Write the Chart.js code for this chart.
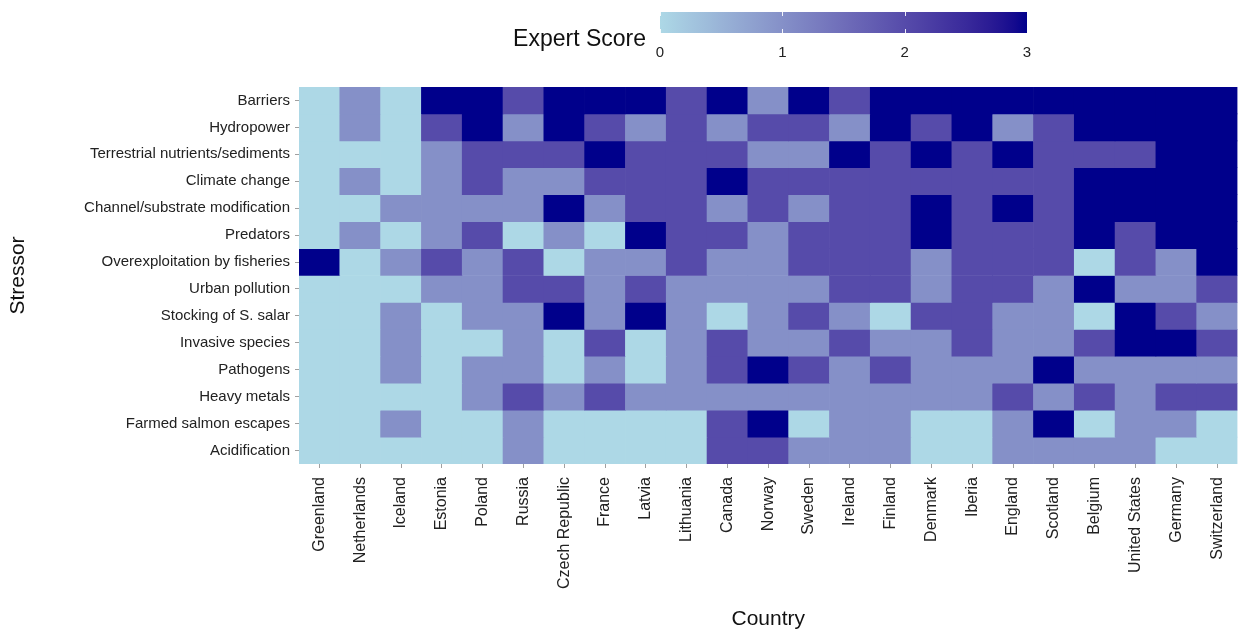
<!DOCTYPE html>
<html>
<head>
<meta charset="utf-8">
<title>Expert scores of stressors by country</title>
<script src="https://cdn.jsdelivr.net/npm/chart.js@4.4.1/dist/chart.umd.min.js"></script>
<style>
  html, body { margin: 0; padding: 0; background: #ffffff; }
  #wrap { position: relative; width: 1241px; height: 635px; }
</style>
</head>
<body>
<div id="wrap"><canvas id="chart" width="1241" height="635"></canvas></div>
<script>
// Countries along the x axis, left to right
const countries = [
  'Greenland', 'Netherlands', 'Iceland', 'Estonia', 'Poland', 'Russia',
  'Czech Republic', 'France', 'Latvia', 'Lithuania', 'Canada', 'Norway',
  'Sweden', 'Ireland', 'Finland', 'Denmark', 'Iberia', 'England',
  'Scotland', 'Belgium', 'United States', 'Germany', 'Switzerland'
];

// Stressors down the y axis, top to bottom
const stressors = [
  'Barriers', 'Hydropower', 'Terrestrial nutrients/sediments', 'Climate change',
  'Channel/substrate modification', 'Predators', 'Overexploitation by fisheries',
  'Urban pollution', 'Stocking of S. salar', 'Invasive species', 'Pathogens',
  'Heavy metals', 'Farmed salmon escapes', 'Acidification'
];

// Expert scores (0-3) for each stressor, one value per country in the order above
const barriers       = [0,1,0,3,3,2,3,3,3,2,3,1,3,2,3,3,3,3,3,3,3,3,3];
const hydropower     = [0,1,0,2,3,1,3,2,1,2,1,2,2,1,3,2,3,1,2,3,3,3,3];
const terrestrial    = [0,0,0,1,2,2,2,3,2,2,2,1,1,3,2,3,2,3,2,2,2,3,3];
const climateChange  = [0,1,0,1,2,1,1,2,2,2,3,2,2,2,2,2,2,2,2,3,3,3,3];
const channel        = [0,0,1,1,1,1,3,1,2,2,1,2,1,2,2,3,2,3,2,3,3,3,3];
const predators      = [0,1,0,1,2,0,1,0,3,2,2,1,2,2,2,3,2,2,2,3,2,3,3];
const overexploit    = [3,0,1,2,1,2,0,1,1,2,1,1,2,2,2,1,2,2,2,0,2,1,3];
const urbanPollution = [0,0,0,1,1,2,2,1,2,1,1,1,1,2,2,1,2,2,1,3,1,1,2];
const stocking       = [0,0,1,0,1,1,3,1,3,1,0,1,2,1,0,2,2,1,1,0,3,2,1];
const invasive       = [0,0,1,0,0,1,0,2,0,1,2,1,1,2,1,1,2,1,1,2,3,3,2];
const pathogens      = [0,0,1,0,1,1,0,1,0,1,2,3,2,1,2,1,1,1,3,1,1,1,1];
const heavyMetals    = [0,0,0,0,1,2,1,2,1,1,1,1,1,1,1,1,1,2,1,2,1,2,2];
const farmedEscapes  = [0,0,1,0,0,1,0,0,0,0,2,3,0,1,1,0,0,1,3,0,1,1,0];
const acidification  = [0,0,0,0,0,1,0,0,0,0,2,2,1,1,1,0,0,1,1,1,1,0,0];

const scoreRows = [
  barriers, hydropower, terrestrial, climateChange, channel, predators,
  overexploit, urbanPollution, stocking, invasive, pathogens, heavyMetals,
  farmedEscapes, acidification
];

// Colour bar ticks
const legendTicks = [0, 1, 2, 3];
const scoreMin = 0, scoreMax = 3;

// ---- colour scale: lightblue -> darkblue, interpolated in CIE Lab ----
const WHITE = [0.95047, 1.0, 1.08883];
function toLinear(c) { c /= 255; return c <= 0.04045 ? c / 12.92 : Math.pow((c + 0.055) / 1.055, 2.4); }
function fromLinear(c) {
  const v = c <= 0.0031308 ? 12.92 * c : 1.055 * Math.pow(c, 1 / 2.4) - 0.055;
  return Math.round(Math.max(0, Math.min(1, v)) * 255);
}
function hexToLab(hex) {
  const n = parseInt(hex.slice(1), 16);
  const r = toLinear((n >> 16) & 255), g = toLinear((n >> 8) & 255), b = toLinear(n & 255);
  const X = (0.4124564 * r + 0.3575761 * g + 0.1804375 * b) / WHITE[0];
  const Y = (0.2126729 * r + 0.7151522 * g + 0.0721750 * b) / WHITE[1];
  const Z = (0.0193339 * r + 0.1191920 * g + 0.9503041 * b) / WHITE[2];
  const f = t => t > 0.008856 ? Math.cbrt(t) : 7.787 * t + 16 / 116;
  const fx = f(X), fy = f(Y), fz = f(Z);
  return [116 * fy - 16, 500 * (fx - fy), 200 * (fy - fz)];
}
function labToRgb(L, a, b) {
  const fy = (L + 16) / 116, fx = fy + a / 500, fz = fy - b / 200;
  const inv = t => { const t3 = t * t * t; return t3 > 0.008856 ? t3 : (t - 16 / 116) / 7.787; };
  const X = inv(fx) * WHITE[0], Y = inv(fy) * WHITE[1], Z = inv(fz) * WHITE[2];
  const r = 3.2404542 * X - 1.5371385 * Y - 0.4985314 * Z;
  const g = -0.9692660 * X + 1.8760108 * Y + 0.0415560 * Z;
  const bl = 0.0556434 * X - 0.2040259 * Y + 1.0572252 * Z;
  return 'rgb(' + fromLinear(r) + ',' + fromLinear(g) + ',' + fromLinear(bl) + ')';
}
const lowLab = hexToLab('#ADD8E6');
const highLab = hexToLab('#00008B');
function scoreColour(v) {
  const t = (v - scoreMin) / (scoreMax - scoreMin);
  return labToRgb(
    lowLab[0] + (highLab[0] - lowLab[0]) * t,
    lowLab[1] + (highLab[1] - lowLab[1]) * t,
    lowLab[2] + (highLab[2] - lowLab[2]) * t
  );
}

const FONT = '"Liberation Sans", Arial, Helvetica, sans-serif';
const TEXT = '#222222';
const TICKMARK = '#a0a0a0';

// ---- continuous colour bar with its title, drawn above the tiles ----
const colourBar = {
  id: 'colourBar',
  afterDraw(chart) {
    const ctx = chart.ctx;
    const x0 = 660, x1 = 1027, y0 = 12, y1 = 33;
    ctx.save();
    const grad = ctx.createLinearGradient(x0, 0, x1, 0);
    for (let i = 0; i <= 30; i++) {
      const t = i / 30;
      grad.addColorStop(t, scoreColour(scoreMin + t * (scoreMax - scoreMin)));
    }
    ctx.fillStyle = grad;
    ctx.fillRect(x0, y0, x1 - x0, y1 - y0);

    const xOf = v => x0 + (v - scoreMin) / (scoreMax - scoreMin) * (x1 - x0);
    ctx.strokeStyle = 'rgba(255,255,255,0.9)';
    ctx.lineWidth = 1;
    legendTicks.forEach(v => {
      const x = Math.round(xOf(v)) + 0.5;
      ctx.beginPath();
      ctx.moveTo(x, y0); ctx.lineTo(x, y0 + 4);
      ctx.moveTo(x, y1 - 4); ctx.lineTo(x, y1);
      ctx.stroke();
    });

    ctx.fillStyle = TEXT;
    ctx.font = '15px ' + FONT;
    ctx.textAlign = 'center';
    ctx.textBaseline = 'middle';
    legendTicks.forEach(v => ctx.fillText(String(v), xOf(v), 53));

    ctx.fillStyle = '#111';
    ctx.font = '23px ' + FONT;
    ctx.textAlign = 'right';
    ctx.fillText('Expert Score', 646, 40);
    ctx.restore();
  }
};

const datasets = stressors.map((name, r) => ({
  label: name,
  data: countries.map(() => [r, r + 1]),
  backgroundColor: scoreRows[r].map(scoreColour),
  borderWidth: 0,
  barPercentage: 1,
  categoryPercentage: 1,
  grouped: false
}));

new Chart(document.getElementById('chart'), {
  type: 'bar',
  data: { labels: countries, datasets },
  plugins: [colourBar],
  options: {
    responsive: false,
    animation: false,
    events: [],
    layout: { padding: { top: 87, right: 3.5, left: 0, bottom: 0 } },
    plugins: { legend: { display: false }, tooltip: { enabled: false } },
    scales: {
      x: {
        type: 'category',
        offset: true,
        afterFit: s => { s.height = 171; s.paddingLeft = 0; s.paddingRight = 0; },
        ticks: {
          autoSkip: false, maxRotation: 90, minRotation: 90, padding: 9,
          color: TEXT, font: { family: FONT, size: 16 }
        },
        grid: { drawOnChartArea: false, offset: false, tickLength: 4, color: TICKMARK },
        border: { display: false },
        title: {
          display: true, text: 'Country', color: '#111',
          font: { family: FONT, size: 21 }, padding: { top: 0, bottom: 3 }
        }
      },
      y: {
        type: 'linear',
        reverse: true,
        min: 0,
        max: stressors.length,
        afterBuildTicks: s => { s.ticks = stressors.map((_, i) => ({ value: i + 0.5 })); },
        afterFit: s => { s.width = 299; s.paddingTop = 0; s.paddingBottom = 0; },
        ticks: {
          autoSkip: false, padding: 5,
          callback: v => stressors[Math.floor(v)],
          color: TEXT, font: { family: FONT, size: 15 }
        },
        grid: { drawOnChartArea: false, tickLength: 4, color: TICKMARK },
        border: { display: false },
        title: {
          display: true, text: 'Stressor', color: '#111',
          font: { family: FONT, size: 21 }, padding: { top: 6, bottom: 0 }
        }
      }
    }
  }
});
</script>
</body>
</html>
